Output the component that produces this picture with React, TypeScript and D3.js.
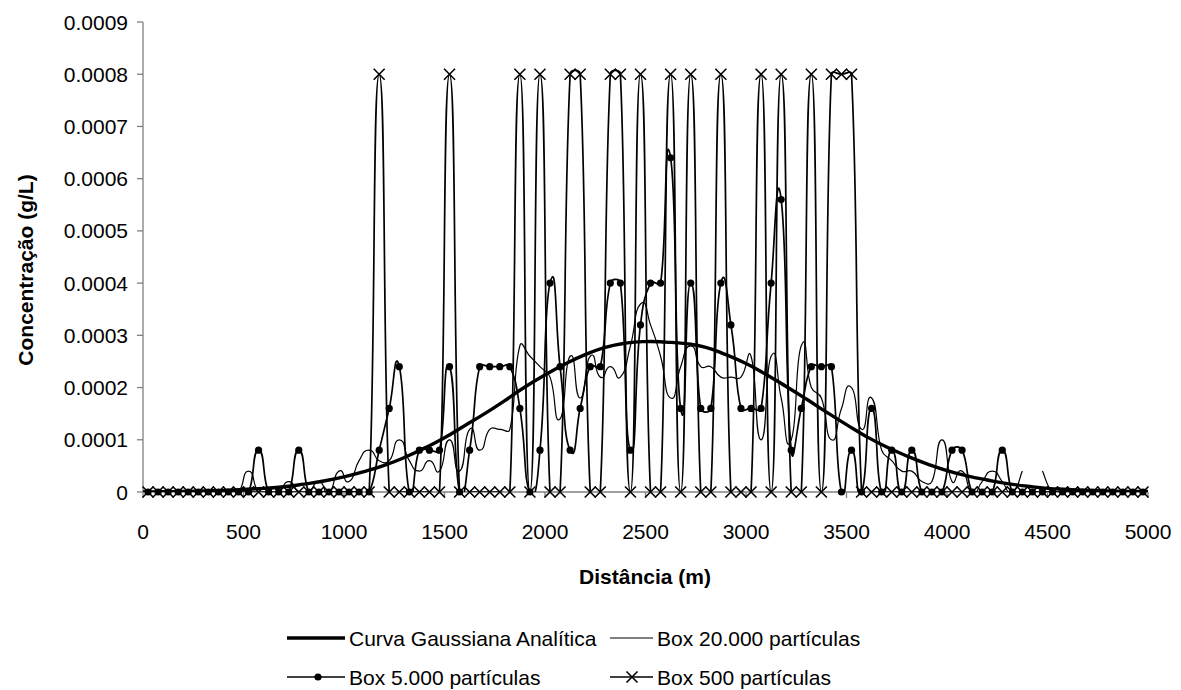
import React from "react";
import * as d3 from "d3";

// concentration values are given in units of 1e-4 g/L
const UNIT = 1e-4;

const boxX = [
  25, 75, 125, 175, 225, 275, 325, 375, 425, 475,
  525, 575, 625, 675, 725, 775, 825, 875, 925, 975,
  1025, 1075, 1125, 1175, 1225, 1275, 1325, 1375, 1425, 1475,
  1525, 1575, 1625, 1675, 1725, 1775, 1825, 1875, 1925, 1975,
  2025, 2075, 2125, 2175, 2225, 2275, 2325, 2375, 2425, 2475,
  2525, 2575, 2625, 2675, 2725, 2775, 2825, 2875, 2925, 2975,
  3025, 3075, 3125, 3175, 3225, 3275, 3325, 3375, 3425, 3475,
  3525, 3575, 3625, 3675, 3725, 3775, 3825, 3875, 3925, 3975,
  4025, 4075, 4125, 4175, 4225, 4275, 4325, 4375, 4425, 4475,
  4525, 4575, 4625, 4675, 4725, 4775, 4825, 4875, 4925, 4975,
];

const box500 = [
  0, 0, 0, 0, 0, 0, 0, 0, 0, 0,
  0, 0, 0, 0, 0, 0, 0, 0, 0, 0,
  0, 0, 0, 8, 0, 0, 0, 0, 0, 0,
  8, 0, 0, 0, 0, 0, 0, 8, 0, 8,
  0, 0, 8, 8, 0, 0, 8, 8, 0, 8,
  0, 0, 8, 0, 8, 0, 0, 8, 0, 0,
  0, 8, 0, 8, 0, 0, 8, 0, 8, 8,
  8, 0, 0, 0, 0, 0, 0, 0, 0, 0,
  0, 0, 0, 0, 0, 0, 0, 0, 0, 0,
  0, 0, 0, 0, 0, 0, 0, 0, 0, 0,
];

const box5000 = [
  0, 0, 0, 0, 0, 0, 0, 0, 0, 0,
  0, 0.8, 0, 0, 0, 0.8, 0, 0, 0, 0,
  0, 0, 0, 0.8, 1.6, 2.4, 0, 0.8, 0.8, 0.8,
  2.4, 0, 0.8, 2.4, 2.4, 2.4, 2.4, 1.6, 0, 0.8,
  4.0, 2.4, 0.8, 1.6, 2.4, 2.4, 4.0, 4.0, 0.8, 3.2,
  4.0, 4.0, 6.4, 1.6, 4.0, 1.6, 1.6, 4.0, 3.2, 1.6,
  1.6, 1.6, 4.0, 5.6, 0.8, 1.6, 2.4, 2.4, 2.4, 0,
  0.8, 0, 1.6, 0, 0.8, 0, 0.8, 0, 0, 0,
  0.8, 0.8, 0, 0, 0, 0.8, 0, 0, 0, 0,
  0, 0, 0, 0, 0, 0, 0, 0, 0, 0,
];

const box20000: (number | null)[] = [
  0, 0, 0, 0, 0, 0, 0, 0, 0, 0,
  0.4, 0, 0, 0, 0.2, 0, 0, 0.2, 0, 0.4,
  0.2, 0.6, 0.8, 0.6, 0.6, 1.0, 0.6, 0.4, 0.6, 0.4,
  1.0, 0.4, 1.2, 0.8, 1.2, 1.2, 1.2, 2.8, 2.6, 2.4,
  2.2, 1.4, 2.6, 1.8, 2.6, 2.2, 2.4, 2.2, 2.8, 3.6,
  3.2, 2.6, 1.8, 2.4, 2.8, 2.4, 2.4, 2.2, 2.2, 2.2,
  2.6, 1.0, 2.6, 1.8, 1.0, 2.8, 2.0, 1.8, 1.0, 1.6,
  2.0, 1.2, 1.8, 0.8, 0.6, 0.4, 0.4, 0.2, 0.2, 1.0,
  0.2, 0.4, 0, 0.2, 0.4, 0.2, 0, 0.4, null, 0.4,
  0, 0, 0, 0, 0, 0, 0, 0, 0, 0,
];

const gaussX = [
  0, 100, 200, 300, 400, 500, 600, 700, 800, 900,
  1000, 1100, 1200, 1300, 1400, 1500, 1600, 1700, 1800, 1900,
  2000, 2100, 2200, 2300, 2400, 2500, 2600, 2700, 2800, 2900,
  3000, 3100, 3200, 3300, 3400, 3500, 3600, 3700, 3800, 3900,
  4000, 4100, 4200, 4300, 4400, 4500, 4600, 4700, 4800, 4900, 5000,
];
const gaussY = [
  0, 0.005, 0.01, 0.02, 0.03, 0.05, 0.07, 0.1, 0.15, 0.21,
  0.29, 0.39, 0.51, 0.66, 0.84, 1.04, 1.27, 1.5, 1.75, 2.01,
  2.24, 2.45, 2.63, 2.77, 2.85, 2.88, 2.87, 2.84, 2.77, 2.63,
  2.46, 2.25, 2.02, 1.78, 1.53, 1.29, 1.06, 0.86, 0.69, 0.54,
  0.41, 0.31, 0.23, 0.16, 0.11, 0.07, 0.05, 0.03, 0.02, 0.01, 0.01,
];

const xTicks = [0, 500, 1000, 1500, 2000, 2500, 3000, 3500, 4000, 4500, 5000];
const yTicks = [0, 0.0001, 0.0002, 0.0003, 0.0004, 0.0005, 0.0006, 0.0007, 0.0008, 0.0009];
const yTickLabels = ["0", "0.0001", "0.0002", "0.0003", "0.0004", "0.0005", "0.0006", "0.0007", "0.0008", "0.0009"];

const legendLabels = [
  "Curva Gaussiana Analítica",
  "Box 20.000 partículas",
  "Box 5.000 partículas",
  "Box 500 partículas",
];

const FONT = "'Liberation Sans', Arial, Helvetica, sans-serif";
const TENSION = 1 / 3;

// Spreadsheet-style smoothing: Bezier arms along the neighbour chord, capped at half the segment length
class SmoothCurve {
  _context: any;
  _pts: number[][];
  constructor(context: any) {
    this._context = context;
    this._pts = [];
  }
  areaStart() {}
  areaEnd() {}
  lineStart() {
    this._pts = [];
  }
  point(x: number, y: number) {
    this._pts.push([+x, +y]);
  }
  lineEnd() {
    const p = this._pts;
    const c = this._context;
    const n = p.length;
    if (!n) return;
    c.moveTo(p[0][0], p[0][1]);
    for (let i = 0; i < n - 1; i++) {
      const P0 = p[i - 1] || p[i];
      const P1 = p[i];
      const P2 = p[i + 1];
      const P3 = p[i + 2] || p[i + 1];
      const d12 = Math.hypot(P2[0] - P1[0], P2[1] - P1[1]);
      let ax = (P2[0] - P0[0]) * TENSION;
      let ay = (P2[1] - P0[1]) * TENSION;
      const la = Math.hypot(ax, ay);
      if (la > d12 / 2 && la > 0) {
        ax *= d12 / 2 / la;
        ay *= d12 / 2 / la;
      }
      let bx = (P3[0] - P1[0]) * TENSION;
      let by = (P3[1] - P1[1]) * TENSION;
      const lb = Math.hypot(bx, by);
      if (lb > d12 / 2 && lb > 0) {
        bx *= d12 / 2 / lb;
        by *= d12 / 2 / lb;
      }
      c.bezierCurveTo(P1[0] + ax, P1[1] + ay, P2[0] - bx, P2[1] - by, P2[0], P2[1]);
    }
  }
}
const curveSmooth = (context: any) => new SmoothCurve(context);

export default function App() {
  const W = 1181;
  const H = 690;
  const left = 143;
  const right = 1148;
  const top = 22;
  const bottom = 492;

  const x = d3.scaleLinear().domain([0, 5000]).range([left, right]);
  const y = d3.scaleLinear().domain([0, 0.0009]).range([bottom, top]);

  type P = [number, number | null];
  const line = d3
    .line<P>()
    .defined((d) => d[1] !== null)
    .x((d) => x(d[0]))
    .y((d) => y((d[1] as number) * UNIT))
    .curve(curveSmooth as any);

  const gPts: P[] = gaussX.map((v, i) => [v, gaussY[i]]);
  const p20000: P[] = boxX.map((v, i) => [v, box20000[i]]);
  const p5000: P[] = boxX.map((v, i) => [v, box5000[i]]);
  const p500: P[] = boxX.map((v, i) => [v, box500[i]]);

  const cross = (cx: number, cy: number, s: number, key: string | number) => (
    <path
      key={key}
      d={`M${cx - s},${cy - s}L${cx + s},${cy + s}M${cx - s},${cy + s}L${cx + s},${cy - s}`}
      stroke="#000"
      strokeWidth={1.6}
      fill="none"
    />
  );

  const fs = 21;
  const ly1 = 638;
  const ly2 = 677;

  return (
    <svg
      width={W}
      height={H}
      style={{ position: "absolute", left: 0, top: 0, background: "#fff" }}
      fontFamily={FONT}
    >
      <rect x={0} y={0} width={W} height={H} fill="#fff" />
      <defs>
        <clipPath id="plotClip">
          <rect x={left} y={top - 2} width={right - left} height={bottom - top + 2} />
        </clipPath>
      </defs>

      {/* axes */}
      <line x1={left} y1={top} x2={left} y2={bottom} stroke="#808080" strokeWidth={1.3} />
      <line x1={left} y1={bottom} x2={right} y2={bottom} stroke="#808080" strokeWidth={1.3} />
      {yTicks.map((t, i) => (
        <g key={"yt" + i}>
          <line x1={left - 6} x2={left} y1={y(t)} y2={y(t)} stroke="#808080" strokeWidth={1.3} />
          <text x={128} y={y(t) + 7.5} fontSize={fs} textAnchor="end" fill="#000">
            {yTickLabels[i]}
          </text>
        </g>
      ))}
      {xTicks.map((t, i) => (
        <g key={"xt" + i}>
          <line x1={x(t)} x2={x(t)} y1={bottom} y2={bottom + 6} stroke="#808080" strokeWidth={1.3} />
          <text x={x(t)} y={539} fontSize={fs} textAnchor="middle" fill="#000">
            {t}
          </text>
        </g>
      ))}

      <text x={645} y={584} fontSize={fs} fontWeight="bold" textAnchor="middle" fill="#000">
        Distância (m)
      </text>
      <text
        x={0}
        y={0}
        transform={`translate(33,270) rotate(-90)`}
        fontSize={fs}
        fontWeight="bold"
        textAnchor="middle"
        fill="#000"
      >
        Concentração (g/L)
      </text>

      {/* series lines */}
      <g clipPath="url(#plotClip)" fill="none" stroke="#000" strokeLinejoin="round">
        <path d={line(p20000) || ""} strokeWidth={1.2} />
        <path d={line(p5000) || ""} strokeWidth={1.7} />
        <path d={line(p500) || ""} strokeWidth={1.7} />
        <path d={line(gPts) || ""} strokeWidth={3.4} />
      </g>

      {/* markers */}
      <g>
        {p5000.map((d, i) => (
          <circle key={"c" + i} cx={x(d[0])} cy={y((d[1] as number) * UNIT)} r={3.6} fill="#000" />
        ))}
        {p500.map((d, i) => cross(x(d[0]), y((d[1] as number) * UNIT), 5.5, "x" + i))}
      </g>

      {/* legend */}
      <g fontSize={fs} fill="#000">
        <line x1={287} x2={345} y1={ly1} y2={ly1} stroke="#000" strokeWidth={3.4} />
        <text x={349} y={ly1 + 7.5}>{legendLabels[0]}</text>
        <line x1={610} x2={653} y1={ly1} y2={ly1} stroke="#000" strokeWidth={1.2} />
        <text x={657} y={ly1 + 7.5}>{legendLabels[1]}</text>

        <line x1={287} x2={345} y1={ly2} y2={ly2} stroke="#000" strokeWidth={1.7} />
        <circle cx={318} cy={ly2} r={3.6} fill="#000" />
        <text x={349} y={ly2 + 7.5}>{legendLabels[2]}</text>
        <line x1={610} x2={653} y1={ly2} y2={ly2} stroke="#000" strokeWidth={1.7} />
        {cross(632, ly2, 5.5, "legx")}
        <text x={657} y={ly2 + 7.5}>{legendLabels[3]}</text>
      </g>
    </svg>
  );
}
